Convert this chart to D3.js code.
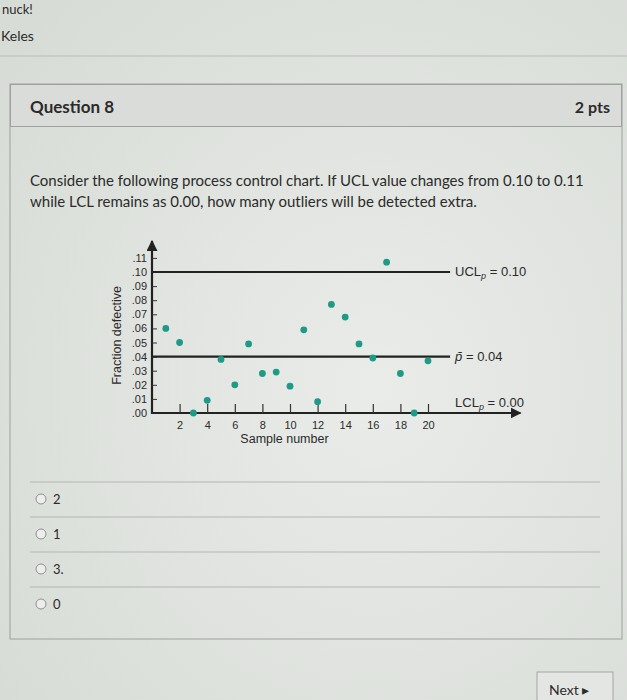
<!DOCTYPE html>
<html lang="en">
<head>
  <meta charset="UTF-8">
  <title>Question 8 - p chart</title>
  <script src="https://d3js.org/d3.v7.min.js"></script>
  <style>
    html, body { margin: 0; padding: 0; background: #e0e3df; overflow: hidden; }
    svg { display: block; }
    .quiz { font-family: Lato, "Open Sans", sans-serif; fill: #2b2b2b; }
    .chart text { font-family: "Liberation Sans", Arial, sans-serif; fill: #2b2b2b; }
  </style>
</head>
<body>
  <div id="page"></div>

  <script>
    // p-chart data
    const samples = [1, 2, 3, 4, 5, 6, 7, 8, 9, 10, 11, 12, 13, 14, 15, 16, 17, 18, 19, 20];
    const fractionDefective = [0.060, 0.050, 0.000, 0.009, 0.038, 0.020, 0.049, 0.028, 0.029, 0.019,
                               0.059, 0.008, 0.077, 0.068, 0.049, 0.039, 0.107, 0.028, 0.000, 0.037];
    const xTicks = [2, 4, 6, 8, 10, 12, 14, 16, 18, 20];
    const yTicks = [0, 0.01, 0.02, 0.03, 0.04, 0.05, 0.06, 0.07, 0.08, 0.09, 0.10, 0.11];
    const controlLimits = [
      { name: "UCL", value: 0.10, label: "= 0.10" },
      { name: "pbar", value: 0.04, label: "= 0.04" },
      { name: "LCL", value: 0.00, label: "= 0.00" }
    ];
    const answers = ["2", "1", "3.", "0"];

    const width = 627, height = 700;

    const svg = d3.select("#page").append("svg")
      .attr("width", width)
      .attr("height", height);

    const defs = svg.append("defs");
    const bg = defs.append("radialGradient").attr("id", "bg")
      .attr("cx", "60%").attr("cy", "55%").attr("r", "75%");
    bg.append("stop").attr("offset", "0%").attr("stop-color", "#e9ece8");
    bg.append("stop").attr("offset", "100%").attr("stop-color", "#d8dcd7");

    defs.append("marker")
      .attr("id", "arrow")
      .attr("viewBox", "0 0 10 10")
      .attr("refX", 9).attr("refY", 5)
      .attr("markerWidth", 5).attr("markerHeight", 5)
      .attr("orient", "auto")
      .append("path")
      .attr("d", "M0,0L10,5L0,10z")
      .attr("fill", "#222");

    svg.append("rect").attr("width", width).attr("height", height).attr("fill", "url(#bg)");

    // --- page chrome ---
    const quiz = svg.append("g").attr("class", "quiz");
    quiz.append("text").attr("x", 2).attr("y", 14).attr("font-size", 13).text("nuck!");
    quiz.append("text").attr("x", 1).attr("y", 41).attr("font-size", 14).text("Keles");
    quiz.append("line").attr("x1", 0).attr("x2", width).attr("y1", 56).attr("y2", 56)
      .attr("stroke", "#b9bcb8");

    // question box
    quiz.append("rect").attr("x", 10).attr("y", 84).attr("width", 612).attr("height", 555)
      .attr("fill", "none").attr("stroke", "#9ea19d");
    quiz.append("rect").attr("x", 10.5).attr("y", 84.5).attr("width", 611).attr("height", 42)
      .attr("fill", "#d9dcd8").attr("stroke", "#9ea19d");
    quiz.append("text").attr("x", 30).attr("y", 113).attr("font-size", 17).attr("font-weight", "bold")
      .text("Question 8");
    quiz.append("text").attr("x", 610).attr("y", 113).attr("font-size", 16).attr("font-weight", "bold")
      .attr("text-anchor", "end").text("2 pts");

    quiz.append("text").attr("x", 30).attr("y", 186).attr("font-size", 15)
      .text("Consider the following process control chart. If UCL value changes from 0.10 to 0.11");
    quiz.append("text").attr("x", 30).attr("y", 207).attr("font-size", 15)
      .text("while LCL remains as 0.00, how many outliers will be detected extra.");

    // answer options
    const optTop = 482, optStep = 35;
    const opts = quiz.selectAll(".opt").data(answers).join("g")
      .attr("class", "opt")
      .attr("transform", (d, i) => `translate(0, ${optTop + i * optStep})`);
    opts.append("line").attr("x1", 30).attr("x2", 600).attr("y1", 0).attr("y2", 0)
      .attr("stroke", "#b3b6b2");
    opts.append("circle").attr("cx", 41).attr("cy", 17).attr("r", 5)
      .attr("fill", "#eceeeb").attr("stroke", "#8d908c");
    opts.append("text").attr("x", 53).attr("y", 22).attr("font-size", 13).text(d => d);

    // next button
    quiz.append("rect").attr("x", 537).attr("y", 672).attr("width", 76).attr("height", 40)
      .attr("fill", "#e3e6e2").attr("stroke", "#a4a7a3");
    quiz.append("text").attr("x", 549).attr("y", 695).attr("font-size", 14).text("Next \u25B8");

    // --- control chart ---
    const chart = svg.append("g").attr("class", "chart");
    const x = d3.scaleLinear().domain([0, 20]).range([152, 428]);
    const y = d3.scaleLinear().domain([0, 0.10]).range([413, 272]);
    const x0 = x(0), y0 = y(0);
    const lineEnd = x(21.6);

    // y axis with arrow
    chart.append("line")
      .attr("x1", x0).attr("x2", x0).attr("y1", y0 + 1).attr("y2", y(0.122))
      .attr("stroke", "#222").attr("stroke-width", 2.2).attr("marker-end", "url(#arrow)");

    const yAxis = chart.append("g")
      .attr("transform", `translate(${x0},0)`)
      .call(d3.axisRight(y).tickValues(yTicks).tickSize(5).tickFormat(d => d3.format(".2f")(d).slice(1)));
    yAxis.select(".domain").remove();
    yAxis.selectAll(".tick line").attr("stroke", "#333");
    yAxis.selectAll(".tick text")
      .attr("x", -5).attr("text-anchor", "end").attr("font-size", 11).attr("fill", "#2b2b2b");

    chart.append("text")
      .attr("transform", `translate(121, ${y(0.055)}) rotate(-90)`)
      .attr("text-anchor", "middle").attr("font-size", 12.5)
      .text("Fraction defective");

    // x axis with arrow
    chart.append("line")
      .attr("x1", x0 - 1).attr("x2", x(26.7)).attr("y1", y0).attr("y2", y0)
      .attr("stroke", "#222").attr("stroke-width", 2.2).attr("marker-end", "url(#arrow)");

    const xAxis = chart.append("g")
      .attr("transform", `translate(0,${y0})`)
      .call(d3.axisTop(x).tickValues(xTicks).tickSize(9).tickFormat(d3.format("d")));
    xAxis.select(".domain").remove();
    xAxis.selectAll(".tick line").attr("stroke", "#333").attr("stroke-width", 1.2);
    xAxis.selectAll(".tick text")
      .attr("y", 16).attr("font-size", 11).attr("fill", "#2b2b2b");

    chart.append("text")
      .attr("x", x(9.6)).attr("y", y0 + 30)
      .attr("text-anchor", "middle").attr("font-size", 12.5)
      .text("Sample number");

    // control limit lines and labels
    controlLimits.forEach(c => {
      if (c.name !== "LCL") {
        chart.append("line")
          .attr("x1", x0).attr("x2", lineEnd)
          .attr("y1", y(c.value)).attr("y2", y(c.value))
          .attr("stroke", "#222").attr("stroke-width", 2.2);
      }
      const t = chart.append("text")
        .attr("x", lineEnd + 5)
        .attr("y", y(c.value) + (c.name === "LCL" ? -6 : 4))
        .attr("font-size", 13);
      if (c.name === "pbar") {
        t.append("tspan").attr("font-style", "italic").text("p\u0304");
        t.append("tspan").text(" " + c.label);
      } else {
        t.append("tspan").text(c.name);
        t.append("tspan").attr("font-size", 9).attr("font-style", "italic").attr("dy", 3).text("p");
        t.append("tspan").attr("dy", -3).text(" " + c.label);
      }
    });

    // sample points
    chart.selectAll(".pt")
      .data(samples.map((s, i) => ({ s, v: fractionDefective[i] })))
      .join("circle")
      .attr("class", "pt")
      .attr("cx", d => x(d.s))
      .attr("cy", d => y(d.v))
      .attr("r", 3.4)
      .attr("fill", "#1f9a86");
  </script>
</body>
</html>
